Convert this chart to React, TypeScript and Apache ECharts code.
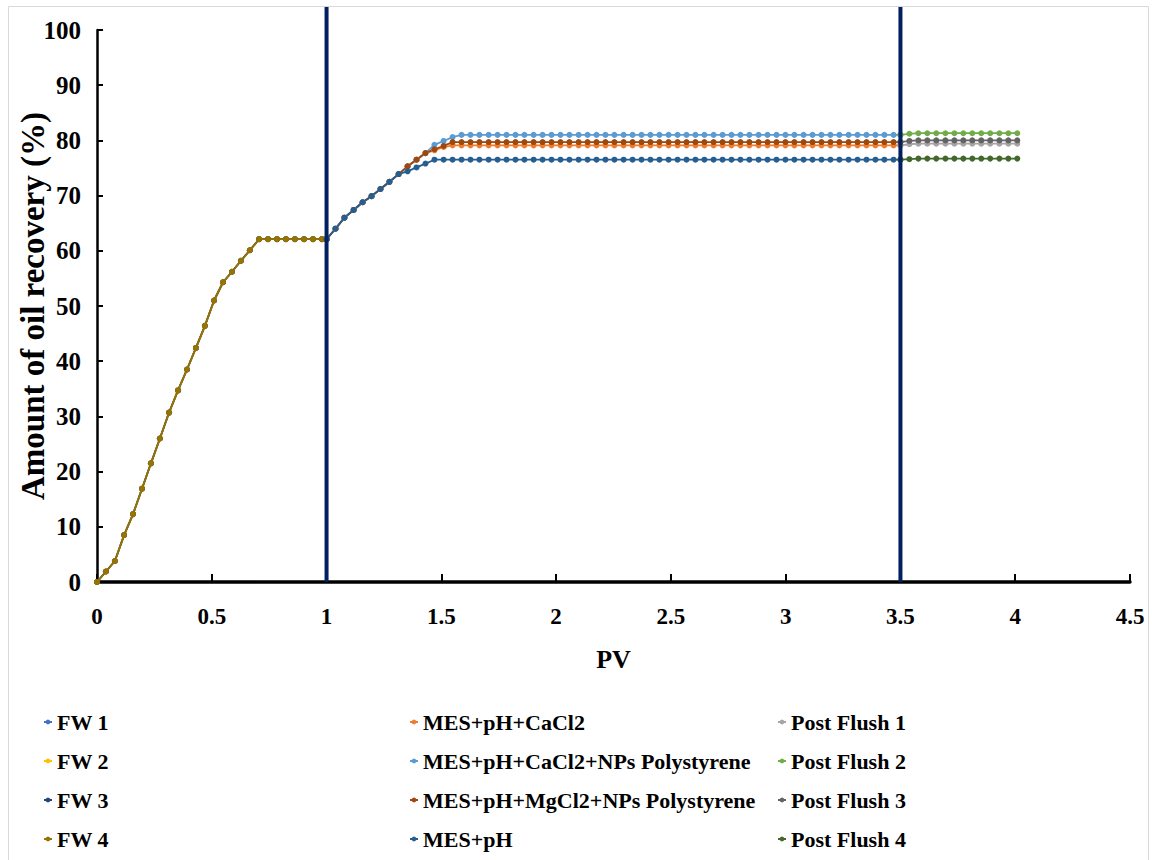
import React, { useEffect, useRef } from "react";
import * as echarts from "echarts";

// ---- Data ----
const pvFW = [0, 0.039, 0.078, 0.118, 0.157, 0.196, 0.235, 0.274, 0.314, 0.353, 0.392, 0.431, 0.47, 0.51, 0.549, 0.588, 0.627, 0.666, 0.706, 0.745, 0.784, 0.823, 0.862, 0.902, 0.941, 0.98, 1.0];
const fwRecovery = [0, 1.9, 3.8, 8.5, 12.3, 16.9, 21.5, 26.0, 30.7, 34.7, 38.5, 42.4, 46.4, 51.0, 54.3, 56.2, 58.2, 60.1, 62.1, 62.1, 62.1, 62.1, 62.1, 62.1, 62.1, 62.1, 62.1];

const pvMES = [
  1.0, 1.039, 1.078, 1.118, 1.157, 1.196, 1.235, 1.274, 1.314, 1.353,
  1.392, 1.431, 1.47, 1.51, 1.549, 1.588, 1.627, 1.666, 1.706, 1.745,
  1.784, 1.823, 1.862, 1.902, 1.941, 1.98, 2.019, 2.058, 2.098, 2.137,
  2.176, 2.215, 2.254, 2.294, 2.333, 2.372, 2.411, 2.45, 2.49, 2.529,
  2.568, 2.607, 2.646, 2.686, 2.725, 2.764, 2.803, 2.842, 2.882, 2.921,
  2.96, 2.999, 3.038, 3.078, 3.117, 3.156, 3.195, 3.234, 3.274, 3.313,
  3.352, 3.391, 3.43, 3.47, 3.5,
];
const mesPH = [
  62.1, 64.0, 66.0, 67.4, 68.8, 69.9, 71.2, 72.5, 73.9, 74.4,
  75.1, 75.8, 76.5, 76.5, 76.5, 76.5, 76.5, 76.5, 76.5, 76.5,
  76.5, 76.5, 76.5, 76.5, 76.5, 76.5, 76.5, 76.5, 76.5, 76.5,
  76.5, 76.5, 76.5, 76.5, 76.5, 76.5, 76.5, 76.5, 76.5, 76.5,
  76.5, 76.5, 76.5, 76.5, 76.5, 76.5, 76.5, 76.5, 76.5, 76.5,
  76.5, 76.5, 76.5, 76.5, 76.5, 76.5, 76.5, 76.5, 76.5, 76.5,
  76.5, 76.5, 76.5, 76.5, 76.5,
];
const mesCaCl2 = [
  62.1, 64.0, 66.0, 67.4, 68.8, 69.9, 71.2, 72.5, 73.9, 75.3,
  76.5, 77.7, 78.2, 78.8, 79.1, 79.1, 79.1, 79.1, 79.1, 79.1,
  79.1, 79.1, 79.1, 79.1, 79.1, 79.1, 79.1, 79.1, 79.1, 79.1,
  79.1, 79.1, 79.1, 79.1, 79.1, 79.1, 79.1, 79.1, 79.1, 79.1,
  79.1, 79.1, 79.1, 79.1, 79.1, 79.1, 79.1, 79.1, 79.1, 79.1,
  79.1, 79.1, 79.1, 79.1, 79.1, 79.1, 79.1, 79.1, 79.1, 79.1,
  79.1, 79.1, 79.1, 79.1, 79.1,
];
const mesCaCl2NPs = [
  62.1, 64.0, 66.0, 67.4, 68.8, 69.9, 71.2, 72.5, 73.9, 75.3,
  76.5, 77.7, 79.2, 79.9, 80.6, 81.0, 81.0, 81.0, 81.0, 81.0,
  81.0, 81.0, 81.0, 81.0, 81.0, 81.0, 81.0, 81.0, 81.0, 81.0,
  81.0, 81.0, 81.0, 81.0, 81.0, 81.0, 81.0, 81.0, 81.0, 81.0,
  81.0, 81.0, 81.0, 81.0, 81.0, 81.0, 81.0, 81.0, 81.0, 81.0,
  81.0, 81.0, 81.0, 81.0, 81.0, 81.0, 81.0, 81.0, 81.0, 81.0,
  81.0, 81.0, 81.0, 81.0, 81.0,
];
const mesMgCl2NPs = [
  62.1, 64.0, 66.0, 67.4, 68.8, 69.9, 71.2, 72.5, 73.9, 75.3,
  76.5, 77.7, 78.4, 79.0, 79.7, 79.7, 79.7, 79.7, 79.7, 79.7,
  79.7, 79.7, 79.7, 79.7, 79.7, 79.7, 79.7, 79.7, 79.7, 79.7,
  79.7, 79.7, 79.7, 79.7, 79.7, 79.7, 79.7, 79.7, 79.7, 79.7,
  79.7, 79.7, 79.7, 79.7, 79.7, 79.7, 79.7, 79.7, 79.7, 79.7,
  79.7, 79.7, 79.7, 79.7, 79.7, 79.7, 79.7, 79.7, 79.7, 79.7,
  79.7, 79.7, 79.7, 79.7, 79.7,
];

const pvPF = [3.5, 3.539, 3.578, 3.617, 3.656, 3.696, 3.735, 3.774, 3.813, 3.852, 3.891, 3.931, 3.97, 4.009];
const postFlush1 = [79.1, 79.3, 79.4, 79.4, 79.4, 79.4, 79.4, 79.4, 79.4, 79.4, 79.4, 79.4, 79.4, 79.4];
const postFlush2 = [81.0, 81.2, 81.3, 81.3, 81.3, 81.3, 81.3, 81.3, 81.3, 81.3, 81.3, 81.3, 81.3, 81.3];
const postFlush3 = [79.7, 79.9, 80.0, 80.0, 80.0, 80.0, 80.0, 80.0, 80.0, 80.0, 80.0, 80.0, 80.0, 80.0];
const postFlush4 = [76.5, 76.6, 76.7, 76.7, 76.7, 76.7, 76.7, 76.7, 76.7, 76.7, 76.7, 76.7, 76.7, 76.7];

const xTicks = [0, 0.5, 1, 1.5, 2, 2.5, 3, 3.5, 4, 4.5];
const stageBoundaries = [1, 3.5];

const seriesNames = [
  "FW 1", "MES+pH+CaCl2", "Post Flush 1",
  "FW 2", "MES+pH+CaCl2+NPs Polystyrene", "Post Flush 2",
  "FW 3", "MES+pH+MgCl2+NPs Polystyrene", "Post Flush 3",
  "FW 4", "MES+pH", "Post Flush 4",
];
const seriesColors = [
  "#4472C4", "#ED7D31", "#A5A5A5",
  "#FFC000", "#5B9BD5", "#70AD47",
  "#264478", "#9E480E", "#636363",
  "#997300", "#255E91", "#43682B",
];
const seriesX = [pvFW, pvMES, pvPF, pvFW, pvMES, pvPF, pvFW, pvMES, pvPF, pvFW, pvMES, pvPF];
const seriesY = [
  fwRecovery, mesCaCl2, postFlush1,
  fwRecovery, mesCaCl2NPs, postFlush2,
  fwRecovery, mesMgCl2NPs, postFlush3,
  fwRecovery, mesPH, postFlush4,
];

const FONT = "Liberation Serif, DejaVu Serif, serif";

export default function App() {
  const ref = useRef<HTMLDivElement>(null);

  useEffect(() => {
    if (!ref.current) return;
    const chart = echarts.init(ref.current, undefined, { renderer: "svg" });

    const series = seriesNames.map((name, i) => ({
      name,
      type: "line",
      data: seriesX[i].map((x, j) => [x, seriesY[i][j]]),
      symbol: "circle",
      symbolSize: 6,
      showSymbol: true,
      lineStyle: { width: 1.8, color: seriesColors[i] },
      itemStyle: { color: seriesColors[i] },
      color: seriesColors[i],
      clip: false,
    }));

    const legendCommon = {
      orient: "vertical",
      top: 710,
      padding: 0,
      itemWidth: 8,
      itemHeight: 6,
      itemGap: 15,
      selectedMode: false,
      textStyle: { fontFamily: FONT, fontWeight: "bold", fontSize: 22, color: "#000", lineHeight: 24 },
    };

    const option: any = {
      animation: false,
      backgroundColor: "#fff",
      textStyle: { fontFamily: FONT },
      grid: { left: 97, right: 22, top: 30, bottom: 278, containLabel: false, outerBoundsMode: "none" },
      xAxis: {
        type: "value",
        min: 0,
        max: 4.5,
        interval: 0.5,
        name: "PV",
        nameLocation: "middle",
        nameGap: 64,
        nameMoveOverlap: false,
        nameTextStyle: { fontFamily: FONT, fontWeight: "bold", fontSize: 26, color: "#000" },
        axisLine: { show: true, lineStyle: { color: "#000", width: 3.5 } },
        axisTick: { show: true, inside: true, length: 8, lineStyle: { color: "#000", width: 2 } },
        axisLabel: {
          fontFamily: FONT, fontWeight: "bold", fontSize: 23, color: "#000", margin: 23,
          formatter: (v: number) => (xTicks.includes(v) ? String(v) : ""),
        },
        splitLine: { show: false },
      },
      yAxis: {
        type: "value",
        min: 0,
        max: 100,
        interval: 10,
        name: "Amount of oil recovery (%)",
        nameLocation: "middle",
        nameGap: 48,
        nameMoveOverlap: false,
        nameTextStyle: { fontFamily: FONT, fontWeight: "bold", fontSize: 33, color: "#000" },
        axisLine: { show: true, lineStyle: { color: "#000", width: 2.5 } },
        axisTick: { show: true, inside: true, length: 6, lineStyle: { color: "#000", width: 2 } },
        axisLabel: { fontFamily: FONT, fontWeight: "bold", fontSize: 25, color: "#000", margin: 16 },
        splitLine: { show: false },
      },
      legend: [
        { ...legendCommon, left: 43, data: seriesNames.filter((_, i) => i % 3 === 0) },
        { ...legendCommon, left: 409, data: seriesNames.filter((_, i) => i % 3 === 1) },
        { ...legendCommon, left: 777, data: seriesNames.filter((_, i) => i % 3 === 2) },
      ],
      series,
    };

    chart.setOption(option);

    const yBottom = chart.convertToPixel({ yAxisIndex: 0 }, 0) as number;
    const graphics: any[] = [
      {
        type: "rect",
        silent: true,
        z: -10,
        shape: { x: 8.5, y: 6.5, width: 1140, height: 880 },
        style: { fill: "none", stroke: "#d9d9d9", lineWidth: 1 },
      },
    ];
    stageBoundaries.forEach((b) => {
      const px = chart.convertToPixel({ xAxisIndex: 0 }, b) as number;
      graphics.push({
        type: "line",
        silent: true,
        z: 100,
        shape: { x1: px, y1: 7, x2: px, y2: yBottom },
        style: { stroke: "#002060", lineWidth: 4 },
      });
    });
    chart.setOption({ graphic: graphics });

    return () => chart.dispose();
  }, []);

  return (
    <div
      ref={ref}
      style={{ position: "absolute", left: 0, top: 0, width: 1152, height: 860, background: "#fff" }}
    />
  );
}
